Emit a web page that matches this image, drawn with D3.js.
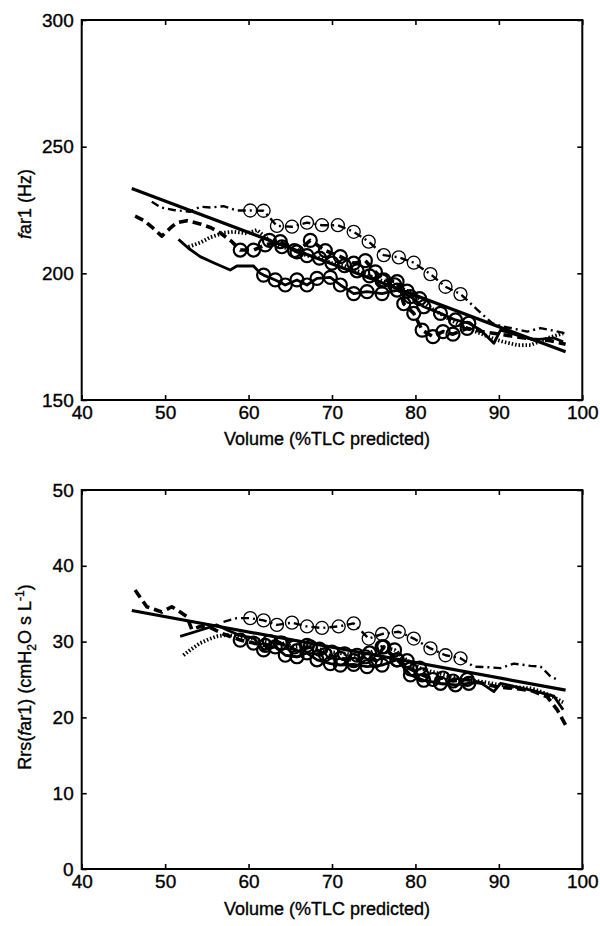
<!DOCTYPE html>
<html>
<head>
<meta charset="utf-8">
<script src="https://cdn.jsdelivr.net/npm/d3@7"></script>
<style>
  body { margin: 0; background: #fff; }
  svg text { font-family: "Liberation Sans", Arial, sans-serif; fill: #000; stroke: #000; stroke-width: 0.35px; }
</style>
</head>
<body>
<svg id="chart" width="600" height="926"></svg>
<script>
// ---- data (volume %TLC predicted, value) ----
const volumeTicks = [40, 50, 60, 70, 80, 90, 100];
const topTicks = [150, 200, 250, 300];
const botTicks = [0, 10, 20, 30, 40, 50];

// top panel: far1 (Hz)
const topFit = [[46, 233.5], [98, 169]];
const topDashDot = [[48.4,228.3],[49.5,226],[51,225],[53,224.3],[54.2,226.3],[55.5,226],[57,226.5],[58.6,224.8],[60.2,224.8],[61.8,224.7],[63.4,218.7],[65.2,218.4],[67,220],[68.8,219],[70.7,219],[72.6,216.4],[74.4,212.5],[76.2,207.2],[78,206.3],[79.8,204.2],[81.8,199.7],[83.6,194.7],[85.4,191.8],[87.3,186],[89.2,180.3],[90.5,179],[92,178],[93.4,177],[95,178.4],[96.2,177.6],[98,176.3]];
const topDashDotCircles = [[60.2,224.8],[61.8,224.7],[63.4,218.7],[65.2,218.4],[67,220],[68.8,219],[70.7,219],[72.6,216.4],[74.4,212.5],[76.2,207.2],[78,206.3],[79.8,204.2],[81.8,199.7],[83.6,194.7],[85.4,191.8]];
const topDashed = [[46.4,222.6],[47.4,221],[48.5,218],[49.6,214.7],[50.6,217.8],[51.4,220],[52.6,220.8],[54.2,219.5],[55.5,218],[56.6,216],[58,212.5],[59,209.2],[60.6,209.2],[62,211.2],[63.8,212.5],[65.8,208.5],[67.4,213],[69.2,209],[71,206.6],[72.6,204],[74,205],[75.2,200.6],[76.2,197.4],[77.8,196.7],[78.6,188],[79.8,184.2],[80.8,177.6],[82.1,175],[83.3,177],[84.5,176],[86.2,178.3],[88,177],[90,176],[92,175],[94,174],[96,173.5],[98,172]];
const topDashedCircles = [[59,209.2],[60.6,209.2],[62,211.2],[63.8,212.5],[65.8,208.5],[67.4,213],[69.2,209],[71,206.6],[72.6,204],[74,205],[75.2,200.6],[76.2,197.4],[77.8,196.7],[78.6,188],[79.8,184.2],[80.8,177.6],[82.1,175],[83.3,177],[84.5,176],[86.2,178.3]];
const topSolid = [[51.6,213.4],[52.8,209.9],[54.2,206.6],[55.8,204.2],[57.8,201.3],[58.6,202.9],[60.6,202.9],[61.4,200],[61.8,199.3],[63.2,197.4],[64.4,195.4],[65.8,197.4],[67,195.4],[68.2,198],[69.8,198.4],[71,195.4],[72.6,192],[74.2,192.8],[76,192],[77.8,193.4],[79.4,190.8],[81,186.8],[83,184.2],[84.8,181.6],[86.4,180.3],[87.8,177.6],[89.4,172.4],[90.2,177.6],[92.2,175.6],[94.2,173.7],[96.6,174.5],[97.7,173]];
const topSolidCircles = [[61.8,199.3],[63.2,197.4],[64.4,195.4],[65.8,197.4],[67,195.4],[68.2,198],[69.8,198.4],[71,195.4],[72.6,192],[74.2,192.8],[76,192],[77.8,193.4],[79.4,190.8],[81,186.8],[83,184.2],[84.8,181.6],[86.4,180.3]];
const topDotted = [[52.8,210.5],[54.2,212.1],[55.4,214.2],[57,216],[58.2,216.4],[59.8,215.8],[61,217.1],[62.5,213],[64,210.5],[65.5,209],[67,207],[68.5,206],[70,204],[71.5,203],[73,201],[74.5,199],[76,197],[77.5,195.5],[79,193],[80.5,190],[82,186],[84,182],[86,178.5],[88,176],[89.5,174],[90.5,173],[92.2,171.7],[93.8,171.7],[95.8,174.4],[97.7,176.3]];
const topDottedCircles = [[62.5,213],[64,210.5],[65.5,209],[67,207],[68.5,206],[70,204],[71.5,203],[73,201],[74.5,199],[76,197],[77.5,195.5],[79,193],[80.5,190]];

// bottom panel: Rrs(far1) (cmH2O s L-1)
const botFit = [[46, 34.1], [98, 23.6]];
const botDashDot = [[57,32.6],[58.6,33.1],[60.2,33.1],[61.8,32.8],[63.4,32.2],[65.2,32.5],[67,32],[68.8,31.8],[70.8,32],[72.6,32.4],[74.4,30.4],[76,31],[78,31.3],[79.8,30.4],[81.8,29.1],[83.6,28.2],[85.4,27.8],[87,26.7],[89,26.6],[90.2,26.5],[91.8,27.1],[93.8,26.8],[95,26.7],[96.2,25.4],[97,25]];
const botDashDotCircles = [[60.2,33.1],[61.8,32.8],[63.4,32.2],[65.2,32.5],[67,32],[68.8,31.8],[70.8,32],[72.6,32.4],[74.4,30.4],[76,31],[78,31.3],[79.8,30.4],[81.8,29.1],[83.6,28.2],[85.4,27.8]];
const botDashed = [[46.4,36.8],[47.8,34.6],[49.6,33.9],[50.8,34.6],[51.8,33.9],[52.6,33.3],[53.2,31.6],[54.2,32],[55.5,31.8],[57,31],[59,30.2],[60.6,29.8],[62,29.5],[63.8,29.8],[65.8,28.8],[67.4,29.3],[69.2,28.3],[71,27.8],[72.6,27.5],[74,28],[75.2,27.5],[76.2,29.3],[77.8,27.6],[79.4,26.4],[80.8,25.6],[82.1,25],[83.3,25.2],[84.5,24.8],[86.2,25],[88,24.5],[90,24],[92,23.8],[94,23.5],[95.8,22.7],[97,21],[98,19]];
const botDashedCircles = [[59,30.2],[60.6,29.8],[62,29.5],[63.8,29.8],[65.8,28.8],[67.4,29.3],[69.2,28.3],[71,27.8],[72.6,27.5],[74,28],[75.2,27.5],[76.2,29.3],[77.8,27.6],[79.4,26.4],[80.8,25.6],[82.1,25],[83.3,25.2],[84.5,24.8],[86.2,25]];
const botSolid = [[51.8,30.7],[54.2,31.5],[56.2,32.2],[57.5,31.5],[59,30.8],[60.6,30.5],[61.8,28.9],[63.2,29.3],[64.4,28.2],[65.8,28],[67,28.5],[68.2,27.6],[69.8,27.1],[71,26.9],[72.6,27],[74.2,26.7],[76,26.9],[77.8,27.6],[79.4,25.6],[81,24.9],[83,24.5],[84.8,24.3],[86.4,24.5],[87.8,24.6],[89.4,23.4],[90.2,24.5],[92.2,24],[94.2,23.5],[96.6,22.8],[97.7,21]];
const botSolidCircles = [[61.8,28.9],[63.2,29.3],[64.4,28.2],[65.8,28],[67,28.5],[68.2,27.6],[69.8,27.1],[71,26.9],[72.6,27],[74.2,26.7],[76,26.9],[77.8,27.6],[79.4,25.6],[81,24.9],[83,24.5],[84.8,24.3],[86.4,24.5]];
const botDotted = [[52.2,28.2],[53,28.9],[54.2,29.8],[55.2,30.3],[56.2,30.7],[57.4,30.9],[58.5,30.7],[60,30.5],[61,30.3],[62.5,30],[64,29.8],[65.5,29.3],[67,29.5],[68.5,29],[70,28.6],[71.5,28.4],[73,28.2],[74.5,28.5],[76,29.3],[77.5,28.9],[79,27.5],[80.5,26.5],[82,26],[84,25.5],[86,25],[88,24.7],[90,24.3],[92,24],[94,23.8],[96,23],[97.7,22]];
const botDottedCircles = [[62.5,30],[64,29.8],[65.5,29.3],[67,29.5],[68.5,29],[70,28.6],[71.5,28.4],[73,28.2],[74.5,28.5],[76,29.3],[77.5,28.9],[79,27.5],[80.5,26.5]];

// ---- drawing ----
const svg = d3.select("#chart");
const x = d3.scaleLinear().domain([40, 100]).range([81.7, 582.3]);

const styles = {
  fit:     {w: 3.2, dash: null},
  solid:   {w: 2.8, dash: null},
  dashed:  {w: 3.6, dash: "9,5"},
  dotted:  {w: 3.8, dash: "1.5,2"},
  dashdot: {w: 2.4, dash: "8,4,2,4"}
};

function panel(opts) {
  const y = d3.scaleLinear().domain(opts.domain).range([opts.bottom, opts.top]);
  const g = svg.append("g");
  const line = d3.line().x(d => x(d[0])).y(d => y(d[1]));

  // axes, MATLAB style: ticks inside on all four sides
  g.append("g").attr("transform", `translate(0,${opts.bottom})`)
    .call(d3.axisBottom(x).tickValues(volumeTicks).tickSize(-5).tickSizeOuter(0).tickPadding(6));
  g.append("g").attr("transform", `translate(0,${opts.top})`)
    .call(d3.axisTop(x).tickValues(volumeTicks).tickSize(-5).tickSizeOuter(0).tickFormat(""));
  g.append("g").attr("transform", `translate(${x(40)},0)`)
    .call(d3.axisLeft(y).tickValues(opts.ticks).tickSize(-5).tickSizeOuter(0).tickPadding(8));
  g.append("g").attr("transform", `translate(${x(100)},0)`)
    .call(d3.axisRight(y).tickValues(opts.ticks).tickSize(-5).tickSizeOuter(0).tickFormat(""));
  g.selectAll(".domain").remove();
  g.selectAll(".tick line").attr("stroke", "#000").attr("stroke-width", 1.6);
  g.selectAll(".tick text").attr("font-size", 19).attr("font-family", "Liberation Sans, Arial, sans-serif");

  g.append("rect")
    .attr("x", x(40)).attr("y", opts.top)
    .attr("width", x(100) - x(40)).attr("height", opts.bottom - opts.top)
    .attr("fill", "none").attr("stroke", "#000").attr("stroke-width", 2);

  // series
  opts.series.forEach(s => {
    const st = styles[s.style];
    g.append("path").datum(s.data)
      .attr("d", line)
      .attr("fill", "none").attr("stroke", "#000")
      .attr("stroke-width", st.w)
      .attr("stroke-dasharray", st.dash)
      .attr("stroke-linejoin", "round");
    if (s.circles) {
      g.selectAll(null).data(s.circles).enter().append("circle")
        .attr("cx", d => x(d[0])).attr("cy", d => y(d[1])).attr("r", 6.5)
        .attr("fill", "none").attr("stroke", "#000")
        .attr("stroke-width", s.style === "dashdot" ? 1.3 : 2.2);
    }
  });

  // x title
  g.append("text")
    .attr("x", 327).attr("y", opts.bottom + opts.xTitleGap)
    .attr("text-anchor", "middle").attr("font-size", 18)
    .text("Volume (%TLC predicted)");
  return g;
}

const topPanel = panel({
  top: 20, bottom: 400, domain: [150, 300], ticks: topTicks, xTitleGap: 45,
  series: [
    {data: topDashDot, circles: topDashDotCircles, style: "dashdot"},
    {data: topDashed, circles: topDashedCircles, style: "dashed"},
    {data: topDotted, circles: topDottedCircles, style: "dotted"},
    {data: topSolid, circles: topSolidCircles, style: "solid"},
    {data: topFit, style: "fit"}
  ]
});
const yl1 = topPanel.append("text").attr("transform", "translate(31,204) rotate(-90)")
  .attr("text-anchor", "middle").attr("font-size", 18);
yl1.append("tspan").attr("font-style", "italic").text("f");
yl1.append("tspan").text("ar1 (Hz)");

const botPanel = panel({
  top: 490, bottom: 869, domain: [0, 50], ticks: botTicks, xTitleGap: 46,
  series: [
    {data: botDashDot, circles: botDashDotCircles, style: "dashdot"},
    {data: botDashed, circles: botDashedCircles, style: "dashed"},
    {data: botDotted, circles: botDottedCircles, style: "dotted"},
    {data: botSolid, circles: botSolidCircles, style: "solid"},
    {data: botFit, style: "fit"}
  ]
});
const yl2 = botPanel.append("text").attr("transform", "translate(31,677) rotate(-90)")
  .attr("text-anchor", "middle").attr("font-size", 18);
yl2.append("tspan").text("Rrs(");
yl2.append("tspan").attr("font-style", "italic").text("f");
yl2.append("tspan").text("ar1) (cmH");
yl2.append("tspan").attr("font-size", 12).attr("dy", 5).text("2");
yl2.append("tspan").attr("dy", -5).text("O s L");
yl2.append("tspan").attr("font-size", 12).attr("dy", -7).text("-1");
yl2.append("tspan").attr("dy", 7).text(")");
</script>
</body>
</html>
